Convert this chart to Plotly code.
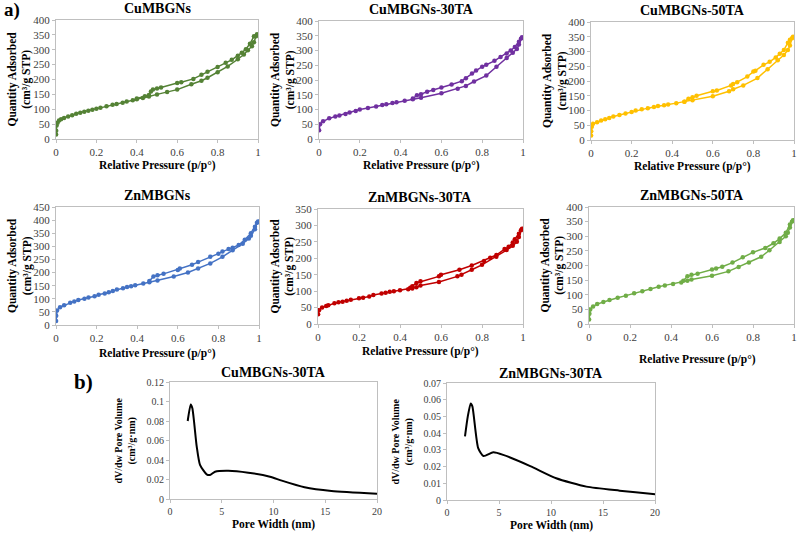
import plotly.graph_objects as go

W, H = 798, 534
FONT = "Liberation Serif, Times New Roman, serif"

# ---- isotherm data (p/p0, quantity adsorbed) ----
# CuMBGNs
cu_ads_p = [0.0005, 0.001, 0.003, 0.008, 0.015, 0.025, 0.04, 0.06, 0.08, 0.1, 0.12, 0.14, 0.16, 0.18, 0.2,
            0.22, 0.25, 0.28, 0.3, 0.33, 0.35, 0.38, 0.4, 0.43, 0.46, 0.5, 0.55, 0.6, 0.67, 0.72, 0.75, 0.8,
            0.85, 0.9, 0.93, 0.95, 0.97, 0.98, 0.99]
cu_ads_q = [15, 28, 45, 55, 62, 66, 71, 76, 80, 85, 88, 92, 95, 98, 102,
            105, 110, 115, 118, 122, 126, 130, 134, 138, 143, 150, 158, 166, 184, 196, 206, 224,
            244, 268, 284, 298, 312, 325, 345]
cu_des_p = [0.995, 0.98, 0.96, 0.94, 0.92, 0.9, 0.87, 0.84, 0.8, 0.75, 0.72, 0.68, 0.62, 0.6, 0.52, 0.5,
            0.48, 0.47, 0.46, 0.44, 0.4]
cu_des_q = [352, 345, 320, 302, 290, 280, 266, 256, 242, 226, 216, 202, 191, 188, 173, 170,
            166, 160, 148, 144, 136]

# CuMBGNs-30TA
cu30_ads_p = [0.0005, 0.005, 0.02, 0.05, 0.08, 0.1, 0.13, 0.15, 0.18, 0.2, 0.24, 0.28, 0.31, 0.33, 0.36,
              0.38, 0.42, 0.46, 0.5, 0.6, 0.68, 0.72, 0.76, 0.82, 0.87, 0.92, 0.95, 0.97, 0.98, 0.99]
cu30_ads_q = [30, 50, 60, 70, 76, 80, 85, 90, 95, 100, 105, 110, 115, 118, 122,
              125, 130, 135, 140, 155, 170, 180, 195, 215, 245, 275, 292, 305, 320, 340]
cu30_des_p = [0.995, 0.98, 0.96, 0.94, 0.92, 0.89, 0.86, 0.82, 0.8, 0.77, 0.75, 0.72, 0.7, 0.65, 0.6,
              0.56, 0.53, 0.5, 0.48, 0.46]
cu30_des_q = [345, 330, 312, 300, 290, 278, 265, 252, 245, 232, 222, 206, 196, 185, 175,
              166, 160, 152, 148, 137]

# CuMBGNs-50TA
cu50_ads_p = [0.0005, 0.001, 0.004, 0.01, 0.03, 0.05, 0.07, 0.09, 0.11, 0.14, 0.17, 0.2, 0.22, 0.25, 0.28,
              0.31, 0.33, 0.36, 0.38, 0.42, 0.46, 0.5, 0.6, 0.68, 0.7, 0.75, 0.82, 0.87, 0.92, 0.95, 0.97,
              0.98, 0.99]
cu50_ads_q = [15, 30, 45, 55, 60, 66, 70, 75, 80, 85, 90, 95, 100, 104, 108,
              112, 115, 118, 120, 125, 130, 135, 148, 165, 172, 185, 210, 240, 270, 288, 305,
              320, 345]
cu50_des_p = [0.995, 0.98, 0.97, 0.95, 0.93, 0.91, 0.88, 0.85, 0.81, 0.8, 0.77, 0.72, 0.7, 0.69, 0.62,
              0.6, 0.52, 0.5, 0.48, 0.46]
cu50_des_q = [350, 340, 330, 305, 292, 280, 265, 255, 235, 232, 215, 196, 190, 185, 168,
              165, 150, 145, 140, 130]

# ZnMBGNs
zn_ads_p = [0.0005, 0.001, 0.005, 0.02, 0.04, 0.07, 0.09, 0.11, 0.14, 0.16, 0.19, 0.21, 0.24, 0.26, 0.28,
            0.3, 0.33, 0.35, 0.37, 0.39, 0.43, 0.46, 0.5, 0.58, 0.65, 0.7, 0.76, 0.82, 0.87, 0.92, 0.95,
            0.96, 0.98, 0.99]
zn_ads_q = [15, 35, 55, 68, 75, 85, 90, 95, 100, 105, 110, 115, 120, 125, 130,
            135, 140, 145, 148, 152, 158, 163, 170, 185, 200, 215, 235, 260, 285, 310, 330,
            340, 365, 390]
zn_des_p = [0.995, 0.98, 0.96, 0.93, 0.9, 0.87, 0.85, 0.82, 0.8, 0.76, 0.7, 0.67, 0.61, 0.6, 0.53, 0.5,
            0.48, 0.46]
zn_des_q = [395, 375, 350, 325, 305, 295, 290, 280, 272, 260, 240, 230, 215, 210, 195, 190,
            185, 168]

# ZnMBGNs-30TA
zn30_ads_p = [0.0005, 0.005, 0.02, 0.04, 0.05, 0.08, 0.1, 0.12, 0.14, 0.16, 0.2, 0.22, 0.25, 0.27, 0.31,
              0.33, 0.35, 0.37, 0.4, 0.44, 0.46, 0.48, 0.5, 0.59, 0.68, 0.7, 0.75, 0.8, 0.87, 0.92, 0.95,
              0.97, 0.98, 0.99]
zn30_ads_q = [30, 42, 50, 55, 57, 63, 66, 68, 71, 74, 78, 80, 84, 88, 93,
              95, 98, 100, 103, 106, 108, 112, 117, 128, 145, 150, 165, 180, 205, 225, 238,
              250, 265, 285]
zn30_des_p = [0.995, 0.98, 0.96, 0.95, 0.93, 0.91, 0.87, 0.84, 0.81, 0.75, 0.69, 0.6, 0.59, 0.5, 0.48,
              0.46, 0.45]
zn30_des_q = [290, 275, 258, 248, 235, 228, 210, 202, 192, 178, 165, 150, 145, 130, 125,
              115, 110]

# ZnMBGNs-50TA
zn50_ads_p = [0.0005, 0.002, 0.006, 0.02, 0.04, 0.07, 0.1, 0.14, 0.18, 0.22, 0.26, 0.3, 0.34, 0.37, 0.41,
              0.45, 0.48, 0.5, 0.6, 0.68, 0.73, 0.78, 0.84, 0.88, 0.93, 0.96, 0.97, 0.98, 0.99]
zn50_ads_q = [15, 35, 50, 60, 68, 75, 82, 90, 97, 105, 112, 120, 127, 132, 137,
              142, 148, 152, 165, 180, 195, 210, 230, 252, 280, 300, 312, 330, 350]
zn50_des_p = [0.995, 0.98, 0.96, 0.93, 0.9, 0.86, 0.8, 0.75, 0.7, 0.65, 0.62, 0.6, 0.53, 0.5, 0.48,
              0.46]
zn50_des_q = [355, 340, 312, 292, 276, 260, 245, 228, 210, 196, 190, 186, 172, 168, 163,
              148]

# ---- pore size distributions (pore width nm, dV/dw) ----
cu30_pw = [1.71, 2.0, 2.16, 2.58, 2.9, 3.54, 3.86, 4.35, 5.64, 7.57, 9.66, 10.8, 13.0, 15.6, 20]
cu30_dv = [0.080, 0.097, 0.093, 0.054, 0.035, 0.0253, 0.0246, 0.028, 0.029, 0.027, 0.0229, 0.0188,
           0.012, 0.0082, 0.0055]
zn30_pw = [1.73, 2.0, 2.28, 2.44, 3.0, 3.5, 4.45, 5.4, 8.0, 10.5, 13.4, 16.6, 19.8, 20]
zn30_dv = [0.038, 0.050, 0.0578, 0.056, 0.031, 0.0263, 0.0285, 0.027, 0.0203, 0.013, 0.008, 0.0056,
           0.0036, 0.0035]

# panel boxes in pixels: left, right, top, bottom ; last value = x title offset below axis
iso_panels = [
    ("CuMBGNs", "#548235", cu_ads_p, cu_ads_q, cu_des_p, cu_des_q, 400, 50, (56, 258, 20, 139), 26),
    ("CuMBGNs-30TA", "#7030a0", cu30_ads_p, cu30_ads_q, cu30_des_p, cu30_des_q, 400, 50, (319, 523, 21, 139), 26),
    ("CuMBGNs-50TA", "#ffc000", cu50_ads_p, cu50_ads_q, cu50_des_p, cu50_des_q, 400, 50, (591, 794, 22, 140), 26),
    ("ZnMBGNs", "#4472c4", zn_ads_p, zn_ads_q, zn_des_p, zn_des_q, 450, 50, (56, 259, 207, 325), 28),
    ("ZnMBGNs-30TA", "#c00000", zn30_ads_p, zn30_ads_q, zn30_des_p, zn30_des_q, 350, 50, (318, 523, 209, 324), 28),
    ("ZnMBGNs-50TA", "#70ad47", zn50_ads_p, zn50_ads_q, zn50_des_p, zn50_des_q, 400, 50, (589, 794, 207, 324), 35),
]
psd_panels = [
    ("CuMBGNs-30TA", cu30_pw, cu30_dv, 0.12, 0.02, (170, 377, 382, 499)),
    ("ZnMBGNs-30TA", zn30_pw, zn30_dv, 0.07, 0.01, (447, 655, 383, 500)),
]

fig = go.Figure()
layout = {}


def axis_style(dom, rng, dtick, tsize):
    return dict(domain=dom, range=rng, dtick=dtick, showgrid=False, zeroline=False,
                showline=True, mirror=True, linecolor="#bfbfbf", linewidth=1,
                ticks="outside", tickcolor="#bfbfbf", ticklen=3, automargin=False,
                tickfont=dict(family=FONT, size=tsize, color="#404040"))


def label(text, x, y, size, angle=0, anchor="center"):
    fig.add_annotation(text="<b>%s</b>" % text, xref="paper", yref="paper", x=x / W, y=1 - y / H,
                       xanchor=anchor, yanchor="middle", showarrow=False, textangle=angle,
                       font=dict(family=FONT, size=size, color="#000000"))


n = 0
for name, col, ap, aq, dp, dq, ymax, ystep, (x0, x1, y0, y1), toff in iso_panels:
    n += 1
    xa, ya = "x%d" % n, "y%d" % n
    for px, qy in ((ap, aq), (dp, dq)):
        fig.add_trace(go.Scatter(x=px, y=qy, mode="lines+markers", xaxis=xa, yaxis=ya,
                                 line=dict(color=col, width=1.5),
                                 marker=dict(color=col, size=4.5), showlegend=False))
    layout["xaxis%d" % n] = axis_style([x0 / W, x1 / W], [0, 1], 0.2, 11)
    layout["xaxis%d" % n]["anchor"] = ya
    layout["yaxis%d" % n] = axis_style([1 - y1 / H, 1 - y0 / H], [0, ymax], ystep, 11)
    layout["yaxis%d" % n]["anchor"] = xa
    label(name, (x0 + x1) / 2, y0 - 12, 14)
    label("Relative Pressure (p/p°)", (x0 + x1) / 2 + (6 if toff > 30 else 0), y1 + toff, 11.5)
    label("Quantity Adsorbed<br>(cm³/g STP)", x0 - 36, (y0 + y1) / 2, 11.5, angle=-90)

for name, pw, dv, ymax, ystep, (x0, x1, y0, y1) in psd_panels:
    n += 1
    xa, ya = "x%d" % n, "y%d" % n
    fig.add_trace(go.Scatter(x=pw, y=dv, mode="lines", xaxis=xa, yaxis=ya,
                             line=dict(color="#000000", width=2, shape="spline", smoothing=0.6),
                             showlegend=False))
    layout["xaxis%d" % n] = axis_style([x0 / W, x1 / W], [0, 20], 5, 10)
    layout["xaxis%d" % n]["anchor"] = ya
    layout["yaxis%d" % n] = axis_style([1 - y1 / H, 1 - y0 / H], [0, ymax], ystep, 10)
    layout["yaxis%d" % n]["anchor"] = xa
    label(name, (x0 + x1) / 2, y0 - 10, 14)
    label("Pore Width (nm)", (x0 + x1) / 2, y1 + 25, 11.5)
    label("dV/dw Pore Volume<br>(cm³/g·nm)", x0 - 45, (y0 + y1) / 2, 10, angle=-90)

# panel letters
label("a)", 2, 10, 19, anchor="left")
label("b)", 72, 382, 21, anchor="left")

fig.update_layout(width=W, height=H, margin=dict(l=0, r=0, t=0, b=0),
                  paper_bgcolor="white", plot_bgcolor="white", **layout)

# the page body has an 8px default margin; drop it so the figure fills the window
fig.write_html("out.html", config={"displayModeBar": False},
               post_script="document.body.style.margin='0';")
